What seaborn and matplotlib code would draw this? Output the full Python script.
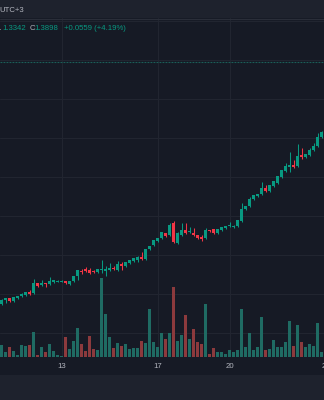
import numpy as np
import pandas as pd
import matplotlib
matplotlib.use("Agg")
import matplotlib.pyplot as plt
from matplotlib.lines import Line2D
from matplotlib.patches import Rectangle
import seaborn as sns

# ---------------- data (4h candles) ----------------
opens = [1.216, 1.220, 1.222, 1.219, 1.222, 1.224, 1.225, 1.228, 1.227, 1.237,
         1.235, 1.237, 1.236, 1.238, 1.2385, 1.2385, 1.239, 1.236, 1.239, 1.244,
         1.249, 1.251, 1.250, 1.249, 1.248, 1.250, 1.249, 1.250, 1.252, 1.250,
         1.256, 1.254, 1.257, 1.259, 1.260, 1.263, 1.261, 1.271, 1.275, 1.279,
         1.282, 1.287, 1.285, 1.297, 1.277, 1.285, 1.290, 1.288, 1.287, 1.285,
         1.283, 1.282, 1.290, 1.291, 1.287, 1.290, 1.292, 1.294, 1.293, 1.294,
         1.299, 1.311, 1.314, 1.321, 1.324, 1.326, 1.332, 1.329, 1.334, 1.337,
         1.343, 1.349, 1.353, 1.355, 1.354, 1.365, 1.363, 1.365, 1.370, 1.374,
         1.383, 1.387]
highs = [1.221, 1.2225, 1.2225, 1.2235, 1.2245, 1.227, 1.2285, 1.230, 1.241, 1.2375,
         1.240, 1.2375, 1.243, 1.2405, 1.240, 1.240, 1.2395, 1.2395, 1.2445, 1.2505,
         1.251, 1.253, 1.252, 1.250, 1.2515, 1.260, 1.254, 1.257, 1.254, 1.259,
         1.258, 1.2585, 1.2605, 1.2625, 1.264, 1.268, 1.2715, 1.2745, 1.2805, 1.2825,
         1.2885, 1.2875, 1.297, 1.299, 1.288, 1.297, 1.297, 1.293, 1.292, 1.2855,
         1.285, 1.292, 1.2905, 1.2915, 1.2915, 1.2935, 1.2945, 1.298, 1.295, 1.3005,
         1.317, 1.3145, 1.323, 1.3255, 1.3265, 1.338, 1.335, 1.3355, 1.3395, 1.3445,
         1.3505, 1.357, 1.368, 1.360, 1.376, 1.372, 1.3665, 1.372, 1.377, 1.387,
         1.389, 1.391]
lows = [1.215, 1.217, 1.2185, 1.2185, 1.2215, 1.223, 1.2245, 1.2255, 1.2265, 1.2335,
        1.2345, 1.233, 1.2355, 1.2375, 1.238, 1.238, 1.2365, 1.2355, 1.2385, 1.240,
        1.246, 1.248, 1.246, 1.2475, 1.2475, 1.247, 1.244, 1.249, 1.2505, 1.2495,
        1.250, 1.2535, 1.2565, 1.2585, 1.258, 1.2605, 1.2605, 1.2705, 1.2745, 1.2785,
        1.2815, 1.2835, 1.2845, 1.2775, 1.2765, 1.2845, 1.286, 1.287, 1.2845, 1.2815,
        1.279, 1.281, 1.2885, 1.2865, 1.2865, 1.2895, 1.2915, 1.2935, 1.2925, 1.2935,
        1.2985, 1.3105, 1.3135, 1.3205, 1.3235, 1.3255, 1.3285, 1.3285, 1.3335, 1.3365,
        1.3425, 1.3485, 1.348, 1.352, 1.3535, 1.361, 1.3625, 1.3645, 1.3695, 1.3735,
        1.3825, 1.386]
closes = [1.220, 1.222, 1.219, 1.223, 1.224, 1.226, 1.228, 1.226, 1.237, 1.234,
          1.237, 1.236, 1.239, 1.240, 1.2395, 1.2395, 1.237, 1.239, 1.244, 1.250,
          1.248, 1.249, 1.247, 1.248, 1.251, 1.251, 1.251, 1.252, 1.251, 1.256,
          1.254, 1.258, 1.260, 1.262, 1.263, 1.261, 1.271, 1.274, 1.280, 1.282,
          1.288, 1.284, 1.295, 1.278, 1.287, 1.290, 1.287, 1.289, 1.285, 1.282,
          1.281, 1.290, 1.289, 1.287, 1.291, 1.293, 1.294, 1.295, 1.2945, 1.300,
          1.311, 1.314, 1.321, 1.325, 1.326, 1.332, 1.329, 1.335, 1.339, 1.344,
          1.350, 1.354, 1.355, 1.353, 1.364, 1.363, 1.366, 1.370, 1.374, 1.383,
          1.388, 1.390]
volumes = [12, 5, 10, 6, 2, 12, 11, 12, 25, 2, 10, 5, 13, 6, 2, 1, 20, 8, 16, 29, 13,
           6, 21, 8, 7, 79, 43, 20, 9, 14, 11, 13, 8, 9, 9, 16, 14, 48, 15, 10, 24,
           18, 24, 70, 16, 22, 42, 18, 28, 15, 13, 53, 3, 9, 5, 5, 3, 7, 5, 7, 48,
           10, 24, 7, 10, 40, 7, 8, 17, 10, 10, 15, 36, 11, 32, 15, 10, 13, 11, 34, 5, 12]

day_ticks = [15, 39, 57, 81]
day_labels = ["13", "17", "20", "24"]
price_grid = [1.499, 1.460, 1.421, 1.382, 1.343, 1.304, 1.265, 1.226, 1.187]
ref_price = 1.458
header_text = "UTC+3"
legend_low = "1.3342"
legend_close = "1.3898"
legend_change = "+0.0559 (+4.19%)"

# ---------------- style ----------------
BG = "#161a25"
PANEL = "#1e222d"
GRID = "#212530"
UP = "#089981"
DOWN = "#f23645"
VUP = "#1f6b63"
VDOWN = "#8c3a3d"
TXT = "#b2b5be"
FS = 5.6

sns.set_theme(style="dark", rc={"axes.facecolor": BG, "figure.facecolor": PANEL})
plt.rcParams["font.family"] = ["Liberation Sans", "DejaVu Sans"]

W, H = 324, 400
fig = plt.figure(figsize=(W / 100, H / 100), dpi=100)
fig.patch.set_facecolor(PANEL)

# dark chart background (chart pane + time axis)
fig.add_artist(Rectangle((0, 1 - 375 / H), 1, (375 - 18) / H, transform=fig.transFigure,
                         facecolor=BG, edgecolor="none", zorder=0))
fig.add_artist(Line2D([0, 1], [1 - 18.5 / H, 1 - 18.5 / H], transform=fig.transFigure,
                      color="#2a2e39", lw=0.8, zorder=1))

ax = fig.add_axes([0, 1 - 357 / H, 1, (357 - 18) / H])
ax.set_facecolor(BG)
for s in ax.spines.values():
    s.set_visible(False)

x = np.arange(len(opens))
o = np.array(opens); c = np.array(closes); hi = np.array(highs); lo = np.array(lows)
up = c >= o

ax.set_xlim(-0.375, 80.625)
ax.set_ylim(1.52 - 0.357, 1.52 - 0.018)

for g in price_grid:
    ax.axhline(g, color=GRID, lw=0.8, zorder=0)
for d in day_ticks:
    ax.axvline(d, color=GRID, lw=0.8, zorder=0)
ax.axhline(ref_price, color="#1b5e58", lw=0.8, dashes=(1.7, 1.0), zorder=1)

# volume pane via seaborn
vax = ax.twinx()
vol_df = pd.DataFrame({"i": x, "vol": volumes,
                       "dir": np.where(up, "up", "down")})
sns.barplot(data=vol_df, x="i", y="vol", hue="dir", palette={"up": VUP, "down": VDOWN},
            native_scale=True, dodge=False, width=0.82, errorbar=None, legend=False,
            saturation=1, ax=vax, zorder=1)
for p in vax.patches:
    p.set_edgecolor("none")
vax.set_ylim(0, 339)
vax.set_xlim(-0.375, 80.625)

# candles
colors = np.where(up, UP, DOWN)
ax.vlines(x, lo, hi, colors=colors, lw=0.75, zorder=3)
body_bottom = np.minimum(o, c)
body_h = np.maximum(np.abs(c - o), 0.0008)
ax.bar(x, body_h, bottom=body_bottom, width=0.72, color=colors, edgecolor="none", zorder=4)

for a in (ax, vax):
    a.set_xticks([]); a.set_yticks([])
    a.set_xlabel(""); a.set_ylabel("")
    for s in a.spines.values():
        s.set_visible(False)
    a.grid(False)

# time axis labels
tr = ax.get_xaxis_transform()
for d, lab in zip(day_ticks, day_labels):
    ax.text(d, -(366 - 357) / 339, lab, transform=tr, ha="center", va="center",
            color=TXT, fontsize=FS, clip_on=False)

# header and legend text
fig.text(-1 / W, 1 - 10 / H, header_text, ha="left", va="center", color=TXT, fontsize=FS)
ly = 1 - 29 / H
fig.text(-3.5 / W, ly, "L", ha="left", va="center", color=TXT, fontsize=FS)
fig.text(2 / W, ly, legend_low, ha="left", va="center", color=UP, fontsize=FS)
fig.text(29.5 / W, ly, "C", ha="left", va="center", color=TXT, fontsize=FS)
fig.text(34.5 / W, ly, legend_close, ha="left", va="center", color=UP, fontsize=FS)
fig.text(64 / W, ly, legend_change, ha="left", va="center", color=UP, fontsize=FS)

fig.savefig("out.png", dpi=100, facecolor=PANEL)
